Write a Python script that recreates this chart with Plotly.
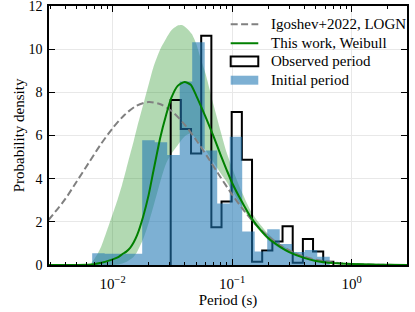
import plotly.graph_objects as go

# ---------------- data ----------------
# Observed period histogram (black step outline)
obs_edges = [0.03058, 0.03720, 0.04525, 0.05504, 0.06695, 0.08144, 0.09906, 0.1205,
             0.1466, 0.1783, 0.2169, 0.2639, 0.3210, 0.3905, 0.4750, 0.5778, 0.7028]
obs_density = [7.64, 6.30, 5.17, 10.62, 1.75, 2.94, 7.09, 4.88,
               0.15, 0.67, 1.09, 1.79, 0.10, 1.21, 0.62, 0.15]

# Initial period histogram (blue filled)
init_edges = [0.006737, 0.008572, 0.010907, 0.013879, 0.017659, 0.022470, 0.028590,
              0.036378, 0.046288, 0.058897, 0.074941, 0.095355, 0.12133, 0.15438,
              0.19644, 0.24995, 0.31804, 0.40468, 0.51491, 0.65517]
init_density = [0.55, 0.52, 0.52, 0.52, 5.78, 5.69, 5.10, 8.50, 10.32, 5.30,
                2.85, 5.94, 1.55, 0.63, 1.66, 0.97, 0.60, 0.70, 0.38]

# Igoshev+2022 log-normal curve
logn_period = [0.0029, 0.0040, 0.0050, 0.0063, 0.0079, 0.0100, 0.0126, 0.0158, 0.0200,
               0.0251, 0.0316, 0.0398, 0.0501, 0.0631, 0.0794, 0.100, 0.126, 0.158,
               0.200, 0.251, 0.316, 0.398, 0.501, 0.631, 0.794, 1.00, 1.585, 3.0]
logn_density = [2.08, 3.05, 3.87, 4.73, 5.57, 6.34, 6.96, 7.38, 7.55,
                7.45, 7.10, 6.52, 5.78, 4.95, 4.09, 3.26, 2.51, 1.86,
                1.33, 0.92, 0.615, 0.396, 0.246, 0.148, 0.085, 0.048, 0.013, 0.002]

# This work, Weibull (best-fit curve)
weib_period = [0.0029, 0.005, 0.007, 0.008, 0.009, 0.010, 0.011, 0.012, 0.013, 0.014,
               0.015, 0.016, 0.018, 0.020, 0.022, 0.025, 0.028, 0.031, 0.035, 0.040,
               0.045, 0.050, 0.060, 0.070, 0.080, 0.090, 0.100, 0.120, 0.140, 0.160,
               0.200, 0.250, 0.300, 0.400, 0.500, 0.700, 1.0, 1.5, 2.0, 3.0]
weib_density = [0.0, 0.005, 0.04, 0.10, 0.18, 0.26, 0.35, 0.50, 0.62, 0.79,
                1.05, 1.38, 2.25, 3.25, 4.40, 5.90, 6.95, 7.75, 8.30, 8.48,
                8.35, 7.85, 6.85, 5.95, 5.10, 4.40, 3.80, 2.95, 2.30, 1.85,
                1.25, 0.85, 0.60, 0.33, 0.19, 0.09, 0.045, 0.02, 0.012, 0.005]

# Weibull uncertainty band (upper and lower envelopes)
band_up_period = [0.006, 0.0065, 0.007, 0.0075, 0.008, 0.009, 0.010, 0.011, 0.012, 0.013,
                  0.014, 0.015, 0.016, 0.018, 0.020, 0.022, 0.025, 0.028, 0.031, 0.035,
                  0.038, 0.042, 0.046, 0.050, 0.055, 0.060, 0.065, 0.070, 0.080, 0.090,
                  0.10, 0.12, 0.14, 0.16, 0.20, 0.25, 0.30, 0.40, 0.50, 0.70, 1.0, 1.5, 2.0, 3.0]
band_up_density = [0.0, 0.05, 0.27, 0.53, 0.84, 1.63, 2.36, 3.04, 3.73, 4.45,
                   5.13, 5.75, 6.37, 7.42, 8.36, 9.20, 10.0, 10.5, 10.88, 11.1,
                   11.12, 10.95, 10.7, 10.25, 9.5, 8.85, 8.1, 7.4, 6.2, 5.2,
                   4.5, 3.4, 2.6, 2.1, 1.45, 0.98, 0.72, 0.42, 0.26, 0.12, 0.055, 0.025, 0.014, 0.006]
band_lo_period = [0.010, 0.011, 0.012, 0.013, 0.014, 0.015, 0.016, 0.018, 0.020, 0.022,
                  0.025, 0.028, 0.031, 0.035, 0.040, 0.045, 0.050, 0.060, 0.070, 0.080,
                  0.090, 0.10, 0.12, 0.14, 0.16, 0.20, 0.25, 0.30, 0.40, 0.50, 0.70,
                  1.0, 1.5, 2.0, 3.0]
band_lo_density = [0.0, 0.02, 0.07, 0.14, 0.25, 0.38, 0.60, 1.20, 1.95, 2.75,
                   3.85, 4.70, 5.15, 5.55, 5.95, 6.10, 5.85, 5.30, 4.75, 4.25,
                   3.85, 3.45, 2.70, 2.15, 1.75, 1.15, 0.78, 0.57, 0.33, 0.17, 0.08,
                   0.04, 0.018, 0.01, 0.005]

x_tick_vals = [0.01, 0.1, 1]
x_tick_text = ["10<sup>\u22122</sup>", "10<sup>\u22121</sup>", "10<sup>0</sup>"]
y_tick_vals = [0, 2, 4, 6, 8, 10, 12]

legend_labels = ["Igoshev+2022, LOGN", "This work, Weibull", "Observed period", "Initial period"]

# ---------------- styles ----------------
FONT = "'Liberation Serif', 'DejaVu Serif', serif"
FS = 15
BLUE_FILL = "rgba(31,119,180,0.58)"
GREEN_FILL = "rgba(0,128,0,0.30)"
GRAY = "rgb(128,128,128)"
GREEN = "rgb(0,128,0)"
DASH = "7px,3.4px"


def step_xy(edges, heights):
    xs = [edges[0]] + list(edges)
    ys = [0] + list(heights) + [0]
    return xs, ys


fig = go.Figure()

fig.add_trace(go.Scatter(
    x=band_up_period + band_lo_period[::-1],
    y=band_up_density + band_lo_density[::-1],
    fill="toself", fillcolor=GREEN_FILL, line=dict(width=0, shape="spline", smoothing=0.6),
    mode="lines", hoverinfo="skip", showlegend=False))

ox, oy = step_xy(obs_edges, obs_density)
fig.add_trace(go.Scatter(x=ox, y=oy, mode="lines", line=dict(color="black", width=2, shape="hv"),
                         showlegend=False))

ix, iy = step_xy(init_edges, init_density)
fig.add_trace(go.Scatter(x=ix, y=iy, mode="lines", fill="tozeroy", fillcolor=BLUE_FILL,
                         line=dict(width=0, shape="hv", color=BLUE_FILL), showlegend=False))

fig.add_trace(go.Scatter(x=logn_period, y=logn_density, mode="lines",
                         line=dict(color=GRAY, width=2, dash=DASH, shape="spline", smoothing=0.8),
                         showlegend=False))

fig.add_trace(go.Scatter(x=weib_period, y=weib_density, mode="lines",
                         line=dict(color=GREEN, width=2, shape="spline", smoothing=0.6),
                         showlegend=False))

# ---------------- hand-built legend ----------------
hx0, hx1 = 0.5075, 0.5846
tx = 0.6145
rows = [0.9292, 0.8562, 0.7858, 0.7127]
shapes = [
    dict(type="line", xref="paper", yref="paper", x0=hx0, x1=hx1, y0=rows[0], y1=rows[0],
         line=dict(color=GRAY, width=2, dash=DASH)),
    dict(type="line", xref="paper", yref="paper", x0=hx0, x1=hx1, y0=rows[1], y1=rows[1],
         line=dict(color=GREEN, width=2)),
    dict(type="rect", xref="paper", yref="paper", x0=hx0, x1=hx1, y0=0.7677, y1=0.805,
         line=dict(color="black", width=2), fillcolor="rgba(0,0,0,0)"),
    dict(type="rect", xref="paper", yref="paper", x0=hx0, x1=hx1, y0=0.6962, y1=0.7308,
         line=dict(width=0), fillcolor=BLUE_FILL),
]
annotations = [
    dict(x=tx, y=r, xref="paper", yref="paper", text=t, showarrow=False,
         xanchor="left", yanchor="middle", font=dict(family=FONT, size=FS, color="black"))
    for r, t in zip(rows, legend_labels)
]

minor_x = [m * 10 ** e for e in range(-3, 1) for m in range(2, 10)]

fig.update_layout(
    width=415, height=312,
    margin=dict(l=49, r=8, t=6, b=47, autoexpand=False),
    paper_bgcolor="white", plot_bgcolor="white",
    font=dict(family=FONT, size=FS, color="black"),
    showlegend=False,
    shapes=shapes, annotations=annotations,
)
fig.update_xaxes(
    type="log", range=[-2.533, 0.463], automargin=False,
    tickmode="array", tickvals=x_tick_vals, ticktext=x_tick_text,
    ticks="inside", ticklen=6, tickwidth=1.2, tickcolor="black",
    showline=True, linecolor="black", linewidth=1.6, mirror="ticks",
    showgrid=True, gridcolor="rgb(232,232,232)", gridwidth=1,
    zeroline=False, ticklabelstandoff=4, ticklabeloverflow="allow",
    minor=dict(tickmode="array", tickvals=minor_x, ticks="inside", ticklen=3.5,
               tickwidth=1, tickcolor="black", showgrid=False),
    title=dict(text="Period (s)", standoff=2, font=dict(family=FONT, size=FS)),
)
fig.update_yaxes(
    range=[0, 12], tickmode="array", tickvals=y_tick_vals, automargin=False,
    tickfont=dict(family=FONT, size=14),
    ticks="inside", ticklen=6, tickwidth=1.2, tickcolor="black",
    showline=True, linecolor="black", linewidth=1.6, mirror="ticks",
    showgrid=True, gridcolor="rgb(232,232,232)", gridwidth=1,
    zeroline=False, ticklabelstandoff=2, ticklabeloverflow="allow",
    title=dict(text="Probability density", standoff=0, font=dict(family=FONT, size=FS)),
)

fig.write_html("out.html", config={"displayModeBar": False},
               post_script="document.body.style.margin='0';document.body.style.padding='0';")
